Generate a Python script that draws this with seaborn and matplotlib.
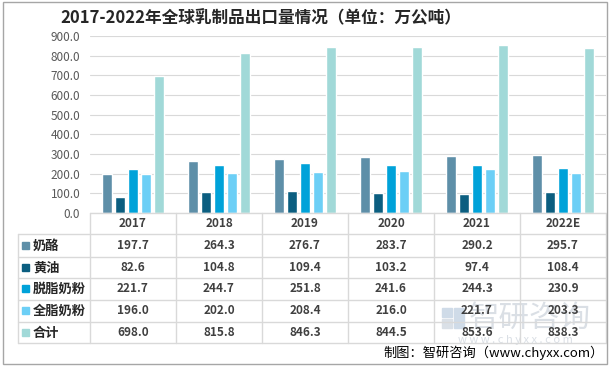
import pandas as pd
import seaborn as sns
import matplotlib.pyplot as plt
from matplotlib.patches import Rectangle

# data (万公吨)
years = ["2017", "2018", "2019", "2020", "2021", "2022E"]
series = ["奶酪", "黄油", "脱脂奶粉", "全脂奶粉", "合计"]
cheese = [197.7, 264.3, 276.7, 283.7, 290.2, 295.7]
butter = [82.6, 104.8, 109.4, 103.2, 97.4, 108.4]
skim_milk = [221.7, 244.7, 251.8, 241.6, 244.3, 230.9]
whole_milk = [196.0, 202.0, 208.4, 216.0, 221.7, 203.3]
total = [698.0, 815.8, 846.3, 844.5, 853.6, 838.3]
colors = ["#5E8FA8", "#0B5E80", "#00A2D9", "#6CCFF6", "#A1D9D8"]

values = [cheese, butter, skim_milk, whole_milk, total]
rows = []
for name, vals in zip(series, values):
    for y, v in zip(years, vals):
        rows.append({"year": y, "series": name, "value": v})
df = pd.DataFrame(rows)

sns.set_theme(style="white")
plt.rcParams['font.family'] = ['Noto Sans CJK SC', 'DejaVu Sans']

W, H = 612, 371
fig = plt.figure(figsize=(6.12, 3.71), dpi=100)
fig.patch.set_facecolor("white")


def box(x0, y0, x1, y1):
    return [x0 / W, 1 - y1 / H, (x1 - x0) / W, (y1 - y0) / H]


ax = fig.add_axes(box(90, 36, 606, 213))
sns.barplot(data=df, x="year", y="value", hue="series", order=years,
            hue_order=series, palette=colors, width=0.75, gap=0.18,
            saturation=1, legend=False, ax=ax)
ax.set_xlim(-0.5, 5.5)
ax.set_ylim(0, 900)
ax.set_yticks(range(0, 901, 100))
ax.set_yticklabels([f"{t:.1f}" for t in range(0, 901, 100)])
ax.set_xticks([])
ax.set_xlabel("")
ax.set_ylabel("")
for s in ax.spines.values():
    s.set_visible(False)
ax.yaxis.grid(True, color="#D9D9D9", lw=0.8)
ax.set_axisbelow(True)
ax.tick_params(axis="y", length=0, pad=7, labelsize=8.5, labelcolor="#595959")
ax.patch.set_alpha(0)

# overlay in pixel coords for the data table and texts
ov = fig.add_axes([0, 0, 1, 1])
ov.set_xlim(0, W)
ov.set_ylim(H, 0)
ov.axis("off")
ov.patch.set_visible(False)

grid_c = "#D9D9D9"
# faint watermark
ov.text(530, 318, "智研咨询", fontsize=22, color="#DADFE5", ha="center", va="center", zorder=1)
ov.text(515, 340, "w w w . c h y x x . c o m", fontsize=8, color="#DADFE5", ha="center", va="center", zorder=1)
ov.add_patch(Rectangle((442, 308), 10, 9, color="#CFDBE8", zorder=1))
ov.add_patch(Rectangle((454, 308), 10, 20, color="#CFDBE8", zorder=1))
ov.add_patch(Rectangle((442, 319), 10, 9, color="#DAE0E7", zorder=1))

col_edges = [90 + 86 * i for i in range(7)]
row_edges = [213, 234, 257, 278, 300, 322, 343]
ov.plot([90, 606], [213, 213], color=grid_c, lw=1, zorder=2)
for yv in row_edges[1:]:
    ov.plot([18, 606], [yv, yv], color=grid_c, lw=1, zorder=2)
ov.plot([18, 18], [234, 343], color=grid_c, lw=1, zorder=2)
for xv in col_edges:
    ov.plot([xv, xv], [213, 343], color=grid_c, lw=1, zorder=2)

centers_x = [(col_edges[i] + col_edges[i + 1]) / 2 for i in range(6)]
centers_y = [(row_edges[i] + row_edges[i + 1]) / 2 for i in range(6)]
for cx, yr in zip(centers_x, years):
    ov.text(cx, centers_y[0], yr, fontsize=8.5, fontweight="bold", color="#404040",
            ha="center", va="center", zorder=3)
for r, (name, vals, c) in enumerate(zip(series, values, colors)):
    cy = centers_y[r + 1]
    ov.add_patch(Rectangle((22, cy - 4), 7, 7, color=c, zorder=3))
    ov.text(33, cy, name, fontsize=9.5, fontweight="bold", color="#262626",
            ha="left", va="center", zorder=3)
    for cx, v in zip(centers_x, vals):
        ov.text(cx, cy, f"{v:.1f}", fontsize=8.5, fontweight="bold", color="#404040",
                ha="center", va="center", zorder=3)

ov.add_patch(Rectangle((3, 2), 604, 362, fill=False, edgecolor="#A6A6A6", lw=1, zorder=4))

ov.text(60, 18, "2017-2022年全球乳制品出口量情况（单位：万公吨）", fontsize=12,
        fontweight="bold", color="#262626", ha="left", va="center")
ov.text(604, 353, "制图：智研咨询（www.chyxx.com）", fontsize=9.5, color="#000000",
        ha="right", va="center", zorder=5)

fig.savefig("out.png", dpi=100)
